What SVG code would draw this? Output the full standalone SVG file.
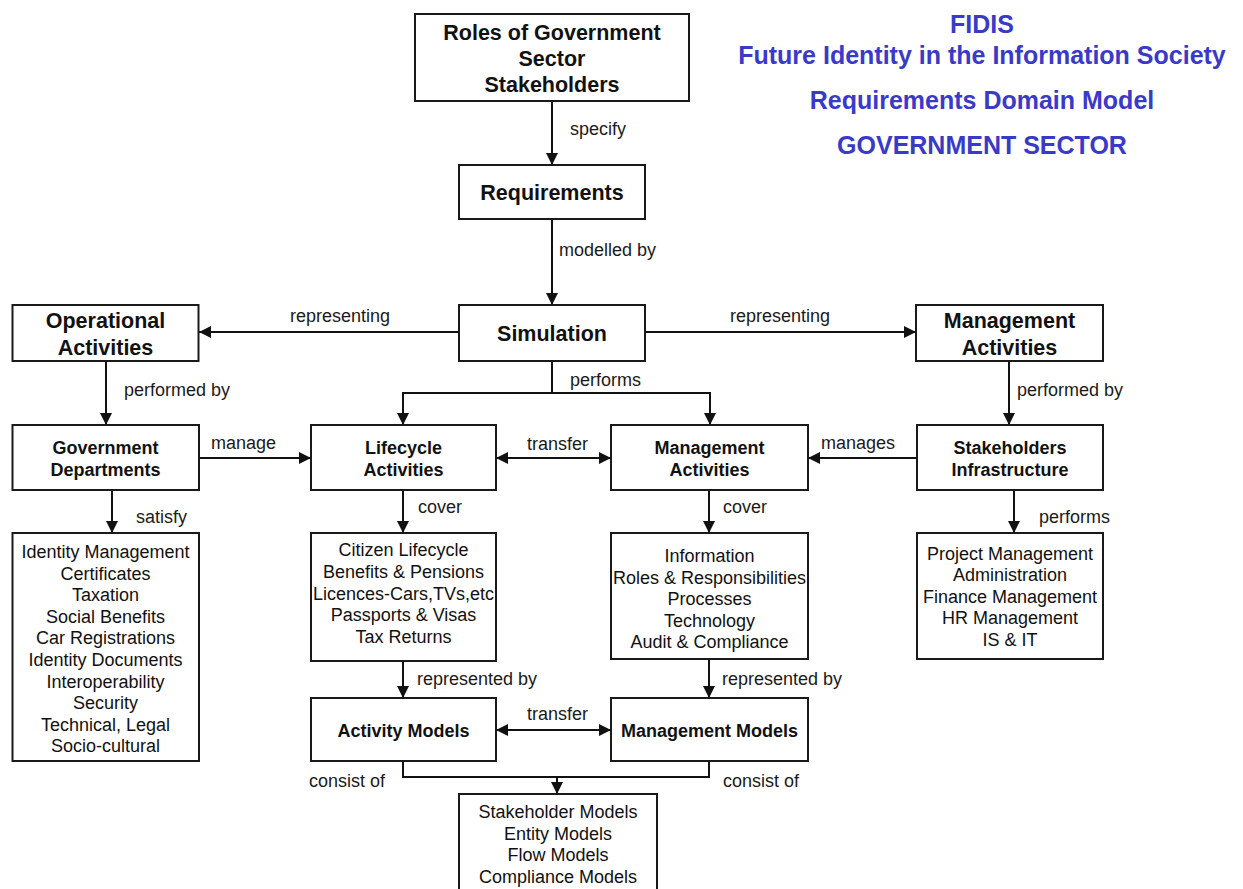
<svg xmlns="http://www.w3.org/2000/svg" width="1243" height="889" viewBox="0 0 1243 889">
<defs>
<marker id="arr" viewBox="0 0 12 12" refX="12" refY="6" markerWidth="12" markerHeight="12" markerUnits="userSpaceOnUse" orient="auto-start-reverse">
<path d="M0,0 L12,6 L0,12 z" fill="#111"/>
</marker>
<style>
text{font-family:"Liberation Sans",Arial,Helvetica,sans-serif;fill:#111;}
.box{fill:#fff;stroke:#1a1a1a;stroke-width:2;}
.b1{font-size:21.5px;font-weight:bold;text-anchor:middle;}
.b2{font-size:18px;font-weight:bold;text-anchor:middle;}
.li{font-size:18px;text-anchor:middle;}
.lb{font-size:18px;fill:#1a1a1a;}
.ti{font-size:25px;font-weight:bold;text-anchor:middle;fill:#3a3ac8;}
.c{fill:none;stroke:#111;stroke-width:2;}
.a{marker-end:url(#arr);}
.d{marker-start:url(#arr);marker-end:url(#arr);}
</style>
</defs>
<rect x="0" y="0" width="1243" height="889" fill="#fff"/>

<g id="title">
<text class="ti" x="982" y="33">FIDIS</text>
<text class="ti" x="982" y="64">Future Identity in the Information Society</text>
<text class="ti" x="982" y="109">Requirements Domain Model</text>
<text class="ti" x="982" y="154">GOVERNMENT SECTOR</text>
</g>

<g id="connectors">
<path class="c a" d="M552,101 V165"/>
<path class="c a" d="M552,219 V305"/>
<path class="c a" d="M459,332 H199"/>
<path class="c a" d="M645,332 H916"/>
<path class="c a" d="M106,361 V425"/>
<path class="c a" d="M1009,361 V425"/>
<path class="c" d="M552,361 V393"/>
<path class="c a" d="M552,393 H403 V425"/>
<path class="c a" d="M552,393 H710 V425"/>
<path class="c a" d="M199,458 H311"/>
<path class="c d" d="M496,458 H611"/>
<path class="c a" d="M917,458 H808"/>
<path class="c a" d="M112,490 V533"/>
<path class="c a" d="M403,490 V533"/>
<path class="c a" d="M709,490 V533"/>
<path class="c a" d="M1014,490 V533"/>
<path class="c a" d="M403,661 V698"/>
<path class="c a" d="M709,659 V698"/>
<path class="c d" d="M496,730 H611"/>
<path class="c" d="M403,761 V777 H709 V761"/>
<path class="c a" d="M557,777 V794"/>
<text class="lb" x="570" y="135">specify</text>
<text class="lb" x="559" y="256">modelled by</text>
<text class="lb" x="290" y="322">representing</text>
<text class="lb" x="730" y="322">representing</text>
<text class="lb" x="124" y="396">performed by</text>
<text class="lb" x="1017" y="396">performed by</text>
<text class="lb" x="570" y="386">performs</text>
<text class="lb" x="211" y="449">manage</text>
<text class="lb" x="527" y="450">transfer</text>
<text class="lb" x="821" y="449">manages</text>
<text class="lb" x="136" y="523">satisfy</text>
<text class="lb" x="418" y="513">cover</text>
<text class="lb" x="723" y="513">cover</text>
<text class="lb" x="1039" y="523">performs</text>
<text class="lb" x="417" y="685">represented by</text>
<text class="lb" x="722" y="685">represented by</text>
<text class="lb" x="527" y="720">transfer</text>
<text class="lb" x="309" y="787">consist of</text>
<text class="lb" x="723" y="787">consist of</text>
</g>

<g id="roles">
<rect class="box" x="415" y="14" width="274" height="87"/>
<text class="b1" x="552" y="39.5">Roles of Government</text>
<text class="b1" x="552" y="65.5">Sector</text>
<text class="b1" x="552" y="92">Stakeholders</text>
</g>

<g id="requirements">
<rect class="box" x="459" y="165" width="186" height="54"/>
<text class="b1" x="552" y="200">Requirements</text>
</g>

<g id="simulation">
<rect class="box" x="459" y="305" width="186" height="56"/>
<text class="b1" x="552" y="341">Simulation</text>
</g>

<g id="operational">
<rect class="box" x="12.5" y="305" width="186" height="56"/>
<text class="b1" x="105.5" y="328">Operational</text>
<text class="b1" x="105.5" y="355">Activities</text>
</g>

<g id="management-top">
<rect class="box" x="916" y="305" width="187" height="56"/>
<text class="b1" x="1009.5" y="328">Management</text>
<text class="b1" x="1009.5" y="355">Activities</text>
</g>

<g id="gov-depts">
<rect class="box" x="12.5" y="425" width="186.5" height="65"/>
<text class="b2" x="105.5" y="453.5">Government</text>
<text class="b2" x="105.5" y="475.5">Departments</text>
</g>

<g id="lifecycle">
<rect class="box" x="311" y="425" width="185" height="65"/>
<text class="b2" x="403.5" y="453.5">Lifecycle</text>
<text class="b2" x="403.5" y="475.5">Activities</text>
</g>

<g id="management-mid">
<rect class="box" x="611" y="425" width="197" height="65"/>
<text class="b2" x="709.5" y="453.5">Management</text>
<text class="b2" x="709.5" y="475.5">Activities</text>
</g>

<g id="stakeholders-infra">
<rect class="box" x="917" y="425" width="186" height="65"/>
<text class="b2" x="1010" y="453.5">Stakeholders</text>
<text class="b2" x="1010" y="475.5">Infrastructure</text>
</g>

<g id="gov-list">
<rect class="box" x="12.5" y="533" width="186.5" height="228"/>
<text class="li" x="105.5" y="558">Identity Management</text>
<text class="li" x="105.5" y="579.6">Certificates</text>
<text class="li" x="105.5" y="601.2">Taxation</text>
<text class="li" x="105.5" y="622.8">Social Benefits</text>
<text class="li" x="105.5" y="644.4">Car Registrations</text>
<text class="li" x="105.5" y="666">Identity Documents</text>
<text class="li" x="105.5" y="687.6">Interoperability</text>
<text class="li" x="105.5" y="709.2">Security</text>
<text class="li" x="105.5" y="730.8">Technical, Legal</text>
<text class="li" x="105.5" y="752.4">Socio-cultural</text>
</g>

<g id="lifecycle-list">
<rect class="box" x="311" y="533" width="185" height="128"/>
<text class="li" x="403.5" y="556.3">Citizen Lifecycle</text>
<text class="li" x="403.5" y="577.9">Benefits &amp; Pensions</text>
<text class="li" x="403.5" y="599.5">Licences-Cars,TVs,etc</text>
<text class="li" x="403.5" y="621.1">Passports &amp; Visas</text>
<text class="li" x="403.5" y="642.7">Tax Returns</text>
</g>

<g id="management-list">
<rect class="box" x="611" y="533" width="197" height="126"/>
<text class="li" x="709.5" y="562">Information</text>
<text class="li" x="709.5" y="583.6">Roles &amp; Responsibilities</text>
<text class="li" x="709.5" y="605.2">Processes</text>
<text class="li" x="709.5" y="626.8">Technology</text>
<text class="li" x="709.5" y="648.4">Audit &amp; Compliance</text>
</g>

<g id="stakeholders-list">
<rect class="box" x="917" y="533" width="186" height="126"/>
<text class="li" x="1010" y="559.5">Project Management</text>
<text class="li" x="1010" y="581.1">Administration</text>
<text class="li" x="1010" y="602.7">Finance Management</text>
<text class="li" x="1010" y="624.3">HR Management</text>
<text class="li" x="1010" y="645.9">IS &amp; IT</text>
</g>

<g id="activity-models">
<rect class="box" x="311" y="698" width="185" height="63"/>
<text class="b2" x="403.5" y="737">Activity Models</text>
</g>

<g id="management-models">
<rect class="box" x="611" y="698" width="197" height="63"/>
<text class="b2" x="709.5" y="737">Management Models</text>
</g>

<g id="model-list">
<rect class="box" x="459" y="794" width="198" height="110"/>
<text class="li" x="558" y="818">Stakeholder Models</text>
<text class="li" x="558" y="839.6">Entity Models</text>
<text class="li" x="558" y="861.2">Flow Models</text>
<text class="li" x="558" y="882.8">Compliance Models</text>
</g>
</svg>
